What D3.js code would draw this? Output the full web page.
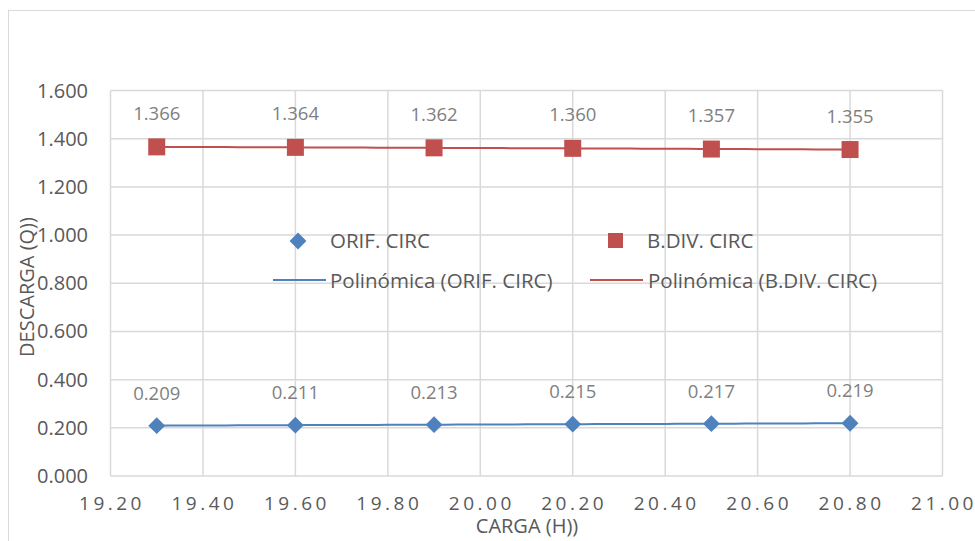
<!DOCTYPE html>
<html>
<head>
<meta charset="utf-8">
<script src="https://cdn.jsdelivr.net/npm/d3@7"></script>
<style>
  body { margin: 0; background: #fff; }
  text { font-family: "Open Sans", "Noto Sans", sans-serif; }
</style>
</head>
<body>
<svg id="chart" width="975" height="541"></svg>
<script>
// data
let carga = [19.3, 19.6, 19.9, 20.2, 20.5, 20.8];
let orif = [0.209, 0.211, 0.213, 0.215, 0.217, 0.219];
let bdiv = [1.366, 1.364, 1.362, 1.360, 1.357, 1.355];
let xTicks = [19.2, 19.4, 19.6, 19.8, 20.0, 20.2, 20.4, 20.6, 20.8, 21.0];
let yTicks = [0, 0.2, 0.4, 0.6, 0.8, 1.0, 1.2, 1.4, 1.6];

let blue = '#4f81bd';
let red = '#c0504d';
let grid = '#d9d9d9';
let txt = '#595959';

let svg = d3.select('#chart');

// outer chart frame
svg.append('rect')
    .attr('x', 8.5).attr('y', 10.5)
    .attr('width', 980).attr('height', 540)
    .attr('fill', 'none').attr('stroke', grid).attr('stroke-width', 1);

let x = d3.scaleLinear().domain([19.2, 21.0]).range([110.5, 942.5]);
let y = d3.scaleLinear().domain([0, 1.6]).range([476, 90.5]);

// gridlines
let g = svg.append('g');
g.selectAll('.vg').data(xTicks).enter().append('line')
    .attr('x1', d => x(d)).attr('x2', d => x(d))
    .attr('y1', y(0)).attr('y2', y(1.6))
    .attr('stroke', grid).attr('stroke-width', 1.5);
g.selectAll('.hg').data(yTicks).enter().append('line')
    .attr('x1', x(19.2)).attr('x2', x(21.0))
    .attr('y1', d => y(d)).attr('y2', d => y(d))
    .attr('stroke', grid).attr('stroke-width', 1.5);

// tick labels
svg.append('g').selectAll('text').data(yTicks).enter().append('text')
    .attr('x', 88).attr('y', d => y(d) + 7)
    .attr('text-anchor', 'end')
    .attr('fill', txt).attr('font-size', 20)
    .text(d => d3.format('.3f')(d));

svg.append('g').selectAll('text').data(xTicks).enter().append('text')
    .attr('x', d => x(d) + 1.5).attr('y', 510)
    .attr('text-anchor', 'middle')
    .attr('fill', txt).attr('font-size', 19)
    .attr('letter-spacing', 3.5)
    .text(d => d3.format('.2f')(d));

// axis titles
svg.append('text')
    .attr('x', 527).attr('y', 533)
    .attr('text-anchor', 'middle')
    .attr('fill', txt).attr('font-size', 20)
    .text('CARGA (H))');

svg.append('text')
    .attr('transform', 'translate(34,287) rotate(-90)')
    .attr('text-anchor', 'middle')
    .attr('fill', txt).attr('font-size', 20)
    .text('DESCARGA (Q))');

// quadratic least squares fit, like the spreadsheet's polynomial trendline
function polyFit(xs, ys) {
    let m = d3.mean(xs);
    let u = xs.map(v => v - m);
    let s = [0, 0, 0, 0, 0].map((_, k) => d3.sum(u, v => Math.pow(v, k)));
    let t = [0, 0, 0].map((_, k) => d3.sum(u, (v, i) => Math.pow(v, k) * ys[i]));
    let A = [[s[0], s[1], s[2]], [s[1], s[2], s[3]], [s[2], s[3], s[4]]];
    let det = M => M[0][0] * (M[1][1] * M[2][2] - M[1][2] * M[2][1])
        - M[0][1] * (M[1][0] * M[2][2] - M[1][2] * M[2][0])
        + M[0][2] * (M[1][0] * M[2][1] - M[1][1] * M[2][0]);
    let D = det(A);
    let c = [0, 1, 2].map(j => det(A.map((row, i) => row.map((v, k) => k === j ? t[i] : v))) / D);
    return xv => c[0] + c[1] * (xv - m) + c[2] * (xv - m) * (xv - m);
}

function trend(vals, color) {
    let f = polyFit(carga, vals);
    let pts = d3.range(0, 61).map(i => {
        let xv = carga[0] + (carga[carga.length - 1] - carga[0]) * i / 60;
        return [xv, f(xv)];
    });
    svg.append('path')
        .attr('d', d3.line().x(d => x(d[0])).y(d => y(d[1]))(pts))
        .attr('fill', 'none').attr('stroke', color).attr('stroke-width', 2);
}
trend(orif, blue);
trend(bdiv, red);

// markers
let diamond = d3.symbol().type(d3.symbolDiamond2).size(180);
svg.append('g').selectAll('path').data(orif).enter().append('path')
    .attr('d', diamond)
    .attr('transform', (d, i) => 'translate(' + x(carga[i]) + ',' + y(d) + ')')
    .attr('fill', blue);

svg.append('g').selectAll('rect').data(bdiv).enter().append('rect')
    .attr('x', (d, i) => x(carga[i]) - 8.5).attr('y', d => y(d) - 8.5)
    .attr('width', 17).attr('height', 17)
    .attr('fill', red);

// data labels
svg.append('g').selectAll('text').data(orif).enter().append('text')
    .attr('x', (d, i) => x(carga[i])).attr('y', d => y(d) - 26)
    .attr('text-anchor', 'middle')
    .attr('fill', '#7f7f7f').attr('font-size', 18.5)
    .text(d => d3.format('.3f')(d));

svg.append('g').selectAll('text').data(bdiv).enter().append('text')
    .attr('x', (d, i) => x(carga[i])).attr('y', d => y(d) - 27)
    .attr('text-anchor', 'middle')
    .attr('fill', '#7f7f7f').attr('font-size', 18.5)
    .text(d => d3.format('.3f')(d));

// legend
let lg = svg.append('g');
lg.append('path').attr('d', diamond).attr('transform', 'translate(298,241)').attr('fill', blue);
lg.append('text').attr('x', 330).attr('y', 248).attr('fill', txt).attr('font-size', 20.5).text('ORIF. CIRC');
lg.append('rect').attr('x', 608).attr('y', 233).attr('width', 15).attr('height', 15).attr('fill', red);
lg.append('text').attr('x', 647).attr('y', 248).attr('fill', txt).attr('font-size', 20.5).text('B.DIV. CIRC');
lg.append('line').attr('x1', 273).attr('x2', 326).attr('y1', 280).attr('y2', 280).attr('stroke', blue).attr('stroke-width', 2);
lg.append('text').attr('x', 330).attr('y', 288).attr('fill', txt).attr('font-size', 20.5).text('Polinómica (ORIF. CIRC)');
lg.append('line').attr('x1', 590).attr('x2', 643).attr('y1', 280).attr('y2', 280).attr('stroke', red).attr('stroke-width', 2);
lg.append('text').attr('x', 648).attr('y', 288).attr('fill', txt).attr('font-size', 20.5).text('Polinómica (B.DIV. CIRC)');
</script>
</body>
</html>
